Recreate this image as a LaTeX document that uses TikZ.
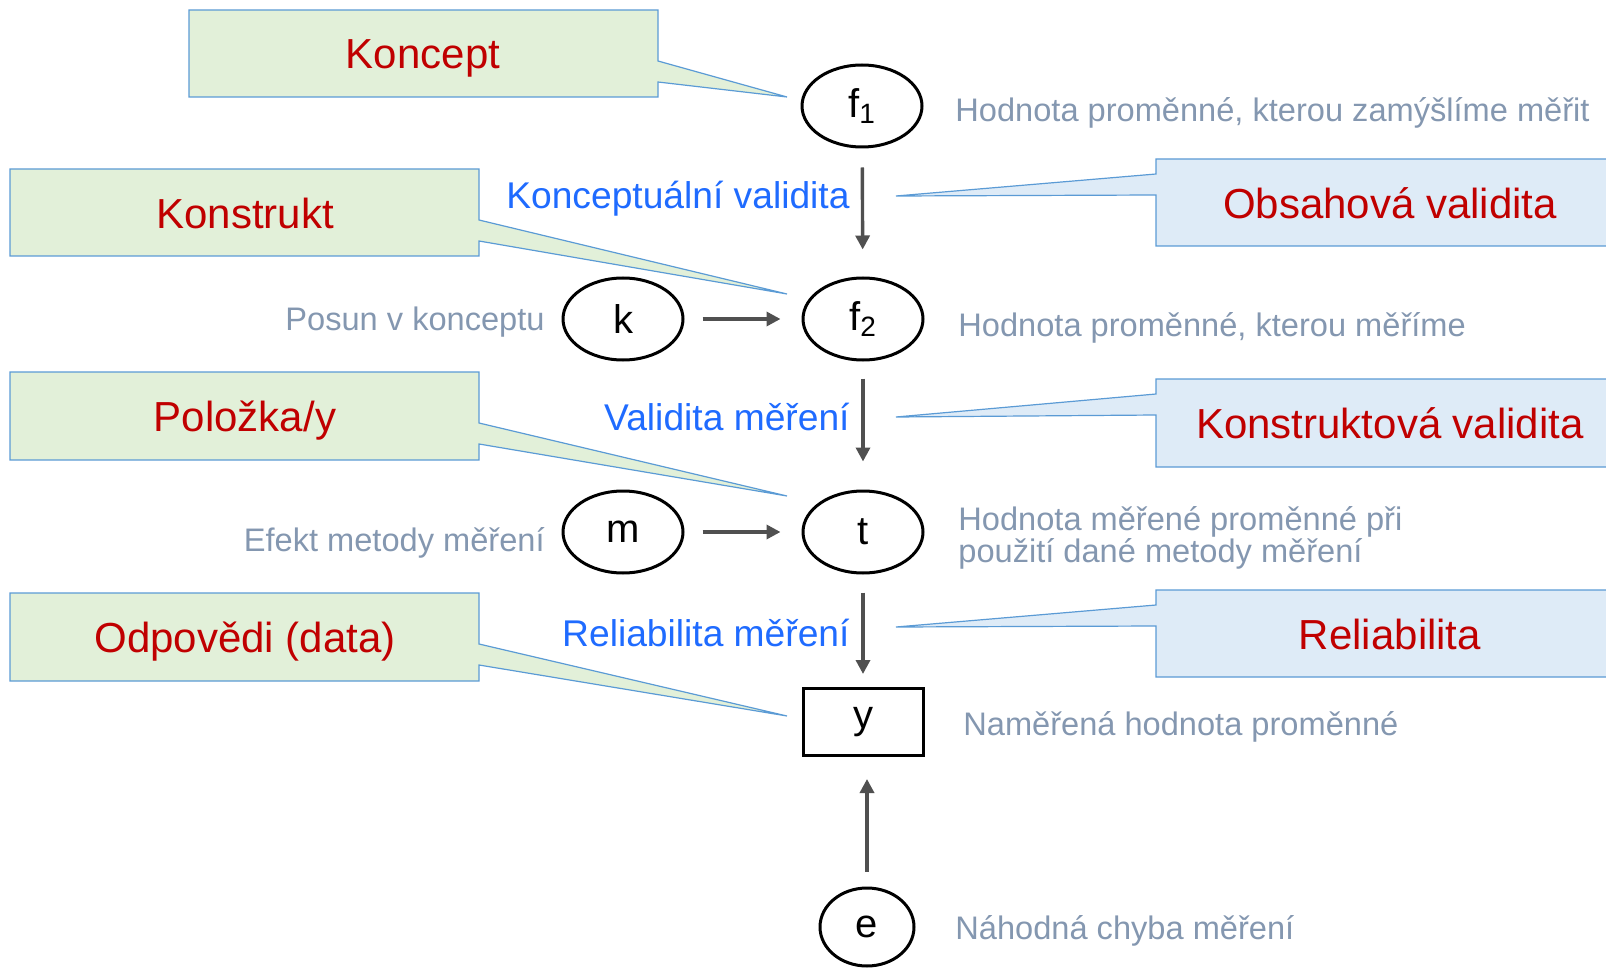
\documentclass[tikz,border=0pt]{standalone}
\usepackage{fontspec}
\setmainfont{Liberation Sans}
\usetikzlibrary{shapes.geometric,arrows.meta}
\definecolor{callgreen}{HTML}{E2F0D9}
\definecolor{callblue}{HTML}{DEEBF7}
\definecolor{callline}{HTML}{5B9BD5}
\definecolor{conceptred}{HTML}{C00000}
\definecolor{linkblue}{HTML}{1F6BFF}
\definecolor{notegrey}{HTML}{8497B0}
\definecolor{arrgrey}{HTML}{505050}

\begin{document}
\begin{tikzpicture}[x=0.5pt,y=-0.5pt,
    var/.style={draw,ellipse,line width=1.5pt,minimum width=60pt,minimum height=41pt,inner sep=0pt,font=\fontsize{20}{24}\selectfont},
    obs/.style={draw,rectangle,line width=1.5pt,minimum width=60pt,minimum height=33.5pt,inner sep=0pt,font=\fontsize{20}{24}\selectfont},
    note/.style={text=notegrey,inner sep=0pt,text depth=0pt,anchor=west,font=\fontsize{16.3}{16}\selectfont},
    link/.style={text=linkblue,inner sep=0pt,text depth=0pt,anchor=east,font=\fontsize{18.6}{22}\selectfont},
    concept/.style={text=conceptred,inner sep=0pt,text depth=0pt,font=\fontsize{21}{25}\selectfont},
    greencall/.style={fill=callgreen,draw=callline,line width=0.6pt},
    bluecall/.style={fill=callblue,draw=callline,line width=0.6pt},
    arr/.style={-{Triangle[length=7pt,width=7pt]},line width=1.7pt,draw=arrgrey}]
  \useasboundingbox (0,0) rectangle (1606,968);
  \draw[greencall] (189,10) -- (658,10) -- (658,61) -- (787,97) -- (658,82) -- (658,97) -- (189,97) -- cycle;
  \draw[greencall] (10,169) -- (479,169) -- (479,220) -- (787,294) -- (479,241) -- (479,256) -- (10,256) -- cycle;
  \draw[greencall] (10,372) -- (479,372) -- (479,423) -- (787,496) -- (479,444) -- (479,460) -- (10,460) -- cycle;
  \draw[greencall] (10,593) -- (479,593) -- (479,644) -- (787,716) -- (479,665) -- (479,681) -- (10,681) -- cycle;
  \draw[bluecall] (1156,159) -- (1614,159) -- (1614,246) -- (1156,246) -- (1156,195) -- (896,196) -- (1156,174) -- cycle;
  \draw[bluecall] (1156,379) -- (1614,379) -- (1614,467) -- (1156,467) -- (1156,415) -- (896,417) -- (1156,394) -- cycle;
  \draw[bluecall] (1156,590) -- (1614,590) -- (1614,677) -- (1156,677) -- (1156,626) -- (896,627) -- (1156,605) -- cycle;
  \node[concept] (koncept) at (423,54) {Koncept};
  \node[concept] (konstrukt) at (245,213) {Konstrukt};
  \node[concept] (polozka) at (245,416) {Položka/y};
  \node[concept] (odpovedi) at (245,637) {Odpovědi (data)};
  \node[concept] (obsahova) at (1390,203) {Obsahová validita};
  \node[concept] (konstruktova) at (1390,423) {Konstruktová validita};
  \node[concept] (reliabilita) at (1390,634) {Reliabilita};
  \node[var] (f1) at (862,106) {f\textsubscript{1}};
  \node[var] (f2) at (863,319) {f\textsubscript{2}};
  \node[var] (k) at (623,319) {k};
  \node[var] (t) at (863,532) {t};
  \node[var] (m) at (623,532) {m};
  \node[obs] (y) at (863,722) {y};
  \node[var,minimum width=47pt,minimum height=39pt] (e) at (867,927) {e};
  \node[note] (nf1) at (955,109) {Hodnota proměnné, kterou zamýšlíme měřit};
  \node[note] (nf2) at (958,324) {Hodnota proměnné, kterou měříme};
  \node[note,align=left] (nt) at (958,534) {Hodnota měřené proměnné při\\použití dané metody měření};
  \node[note] (ny) at (963,723) {Naměřená hodnota proměnné};
  \node[note] (ne) at (955,927) {Náhodná chyba měření};
  \node[note,anchor=east] (nk) at (545,319) {Posun v konceptu};
  \node[note,anchor=east] (nm) at (545,539) {Efekt metody měření};
  \node[link] (lf) at (850,195) {Konceptuální validita};
  \node[link] (lt) at (850,417) {Validita měření};
  \node[link] (ly) at (850,633) {Reliabilita měření};
  \draw[arr,shorten <=9.5pt,shorten >=13.5pt] (f1) -- (f2);
  \draw[arr,shorten <=9pt,shorten >=10.5pt] (k) -- (f2);
  \draw[arr,shorten <=8.5pt,shorten >=14pt] (f2) -- (t);
  \draw[arr,shorten <=9pt,shorten >=10.5pt] (m) -- (t);
  \draw[arr,shorten <=9pt,shorten >=6.5pt] (t) -- (y);
  \draw[arr,shorten <=7.5pt,shorten >=11pt] (e) -- (e |- y.south);
\end{tikzpicture}
\end{document}
